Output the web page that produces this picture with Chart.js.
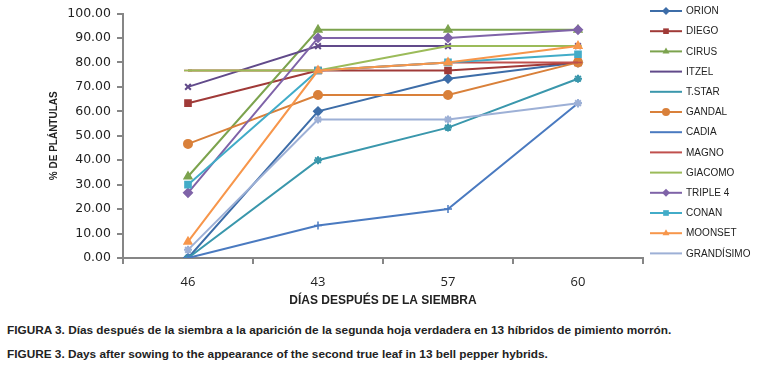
<!DOCTYPE html>
<html>
<head>
<meta charset="utf-8">
<script src="https://cdn.jsdelivr.net/npm/chart.js@4"></script>
<style>
  body { margin: 0; background: #fff; width: 760px; height: 366px; overflow: hidden; }
  #wrap { position: relative; width: 760px; height: 312px; }
  .cap { position: absolute; left: 7px; font: bold 11.8px "Liberation Sans", Arial, sans-serif; color: #222; white-space: nowrap; }
</style>
</head>
<body>
<div id="wrap"><canvas id="chart" width="760" height="312"></canvas></div>
<div class="cap" style="top:323px">FIGURA 3. Días después de la siembra a la aparición de la segunda hoja verdadera en 13 híbridos de pimiento morrón.</div>
<div class="cap" style="top:347px">FIGURE 3. Days after sowing to the appearance of the second true leaf in 13 bell pepper hybrids.</div>
<script>
const days = ["46", "43", "57", "60"];

const hybrids = ["ORION", "DIEGO", "CIRUS", "ITZEL", "T.STAR", "GANDAL", "CADIA",
    "MAGNO", "GIACOMO", "TRIPLE 4", "CONAN", "MOONSET", "GRANDÍSIMO"];

const orion = [0, 60, 73.33, 80];
const diego = [63.33, 76.67, 76.67, 80];
const cirus = [33.33, 93.33, 93.33, 93.33];
const itzel = [70, 86.67, 86.67, 86.67];
const tstar = [0, 40, 53.33, 73.33];
const gandal = [46.67, 66.67, 66.67, 80];
const cadia = [0, 13.33, 20, 63.33];
const magno = [76.67, 76.67, 80, 80];
const giacomo = [76.67, 76.67, 86.67, 86.67];
const triple4 = [26.67, 90, 90, 93.33];
const conan = [30, 76.67, 80, 83.33];
const moonset = [6.67, 76.67, 80, 86.67];
const grandisimo = [3.33, 56.67, 56.67, 63.33];

const seriesValues = [orion, diego, cirus, itzel, tstar, gandal, cadia,
    magno, giacomo, triple4, conan, moonset, grandisimo];

const colors = ["#3d6da8", "#a03a38", "#7ca34e", "#614a8a", "#3a97ac", "#d9803a", "#4a7ac0",
    "#c0504d", "#9bbb59", "#7f63a8", "#42acc8", "#f7964b", "#9db0d6"];
const markers = ["rectRot", "rect", "triangle", "crossRot", "star", "circle", "cross",
    "line", "line", "rectRot", "rect", "triangle", "star"];

const datasets = hybrids.map((name, i) => ({
    label: name,
    data: seriesValues[i],
    borderColor: colors[i],
    backgroundColor: colors[i],
    borderWidth: 2,
    pointStyle: markers[i],
    pointRadius: 4,
    pointBorderWidth: markers[i] === "cross" || markers[i] === "line" ? 1.5 : 2,
    order: -i,
}));

// leyenda: linea con marcador, como en Excel
const lineLegend = {
    id: "lineLegend",
    afterDraw(chart) {
        const ctx = chart.ctx;
        ctx.save();
        chart.data.datasets.forEach((ds, i) => {
            const y = 11 + i * 20.2;
            ctx.strokeStyle = ds.borderColor;
            ctx.fillStyle = ds.backgroundColor;
            ctx.lineWidth = 2;
            ctx.beginPath();
            ctx.moveTo(650, y);
            ctx.lineTo(682, y);
            ctx.stroke();
            ctx.lineWidth = ds.pointBorderWidth;
            Chart.helpers.drawPoint(ctx, {pointStyle: ds.pointStyle, radius: 4, rotation: 0}, 666, y);
            ctx.fillStyle = "#222";
            ctx.font = "10px 'Liberation Sans', Arial, sans-serif";
            ctx.textBaseline = "middle";
            ctx.fillText(ds.label, 686, y + 0.5);
        });
        ctx.restore();
    }
};

new Chart(document.getElementById("chart"), {
    type: "line",
    data: { labels: days, datasets: datasets },
    plugins: [lineLegend],
    options: {
        responsive: false,
        animation: false,
        layout: { padding: { top: 13, right: 117, left: 0, bottom: 0 } },
        plugins: { legend: { display: false }, tooltip: { enabled: false } },
        scales: {
            x: {
                offset: true,
                grid: { offset: true, drawOnChartArea: false, tickLength: 6, color: "#868686", lineWidth: 2 },
                border: { color: "#868686", width: 2 },
                ticks: { padding: 10, color: "#222", font: { family: "'Open Sans', sans-serif", size: 13 } },
                title: {
                    display: true,
                    text: "DÍAS DESPUÉS DE LA SIEMBRA",
                    color: "#222",
                    font: { family: "'Liberation Sans', Arial, sans-serif", size: 12, weight: "bold" },
                    padding: { top: 0, bottom: 4 }
                },
                afterFit: (scale) => { scale.height = 54; }
            },
            y: {
                min: 0,
                max: 100,
                grid: { drawOnChartArea: false, tickLength: 6, color: "#868686", lineWidth: 2 },
                border: { color: "#868686", width: 2 },
                ticks: {
                    stepSize: 10,
                    padding: 6,
                    color: "#222",
                    font: { family: "'DejaVu Sans', sans-serif", size: 12.5 },
                    callback: (v) => v.toFixed(2)
                },
                title: {
                    display: true,
                    text: "% DE PLÁNTULAS",
                    color: "#222",
                    font: { family: "'Liberation Sans', Arial, sans-serif", size: 10, weight: "bold" },
                    padding: { top: 48, bottom: 0 }
                },
                afterFit: (scale) => { scale.width = 123; }
            }
        }
    }
});
</script>
</body>
</html>
